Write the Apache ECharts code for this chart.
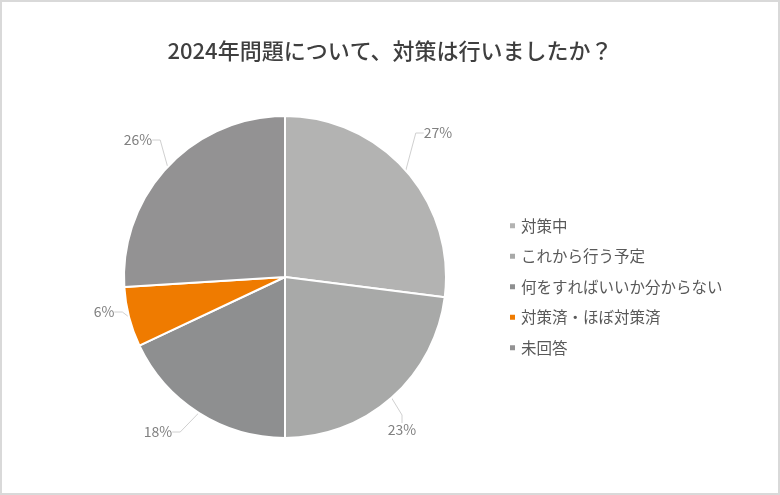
<!DOCTYPE html>
<html>
<head>
<meta charset="utf-8">
<script src="https://cdn.jsdelivr.net/npm/echarts@6/dist/echarts.min.js"></script>
<style>
html, body { margin: 0; padding: 0; background: #fff; }
#chart { width: 780px; height: 495px; }
</style>
</head>
<body>
<div id="chart"></div>
<script>
const categories = ['対策中', 'これから行う予定', '何をすればいいか分からない', '対策済・ほぼ対策済', '未回答']
const values = [27, 23, 18, 6, 26]
const colors = ['#b3b3b2', '#a8a9a8', '#8e8f90', '#ef7b00', '#939293']

// where each percentage label sits (Excel-style leader lines)
const labelSpots = [[438, 133], [402, 430], [158, 432], [104, 312], [138, 140]]

const chart = echarts.init(document.getElementById('chart'))

const option = {
    backgroundColor: '#fff',
    textStyle: {
        fontFamily: '"Noto Sans CJK JP", "Noto Sans", sans-serif'
    },
    title: {
        text: '2024年問題について、対策は行いましたか？',
        left: 'center',
        top: 35,
        textStyle: {
            fontSize: 22,
            fontWeight: 500,
            color: '#3f3f3f'
        }
    },
    graphic: [
        {
            type: 'rect',
            shape: {x: 1, y: 1, width: 778, height: 493},
            style: {fill: 'none', stroke: '#d9d9d9', lineWidth: 2},
            silent: true
        }
    ],
    legend: {
        orient: 'vertical',
        left: 503,
        top: 213,
        icon: 'rect',
        itemWidth: 7,
        itemHeight: 7,
        itemGap: 15,
        textStyle: {
            fontSize: 15.5,
            lineHeight: 15.5,
            color: '#595959'
        },
        data: categories
    },
    series: [
        {
            type: 'pie',
            center: [285, 277],
            radius: [0, 161],
            startAngle: 90,
            clockwise: true,
            color: colors,
            itemStyle: {
                borderColor: '#fff',
                borderWidth: 2
            },
            label: {
                show: true,
                position: 'outside',
                formatter: '{c}%',
                fontSize: 14,
                color: '#808080'
            },
            labelLine: {
                length: 20,
                length2: 8,
                lineStyle: {color: '#d0d0d0', width: 1}
            },
            labelLayout: params => ({
                x: labelSpots[params.dataIndex][0],
                y: labelSpots[params.dataIndex][1],
                align: 'center',
                verticalAlign: 'middle'
            }),
            emphasis: {scale: false},
            data: categories.map((name, i) => ({name: name, value: values[i]}))
        }
    ]
}

option && chart.setOption(option)
</script>
</body>
</html>
